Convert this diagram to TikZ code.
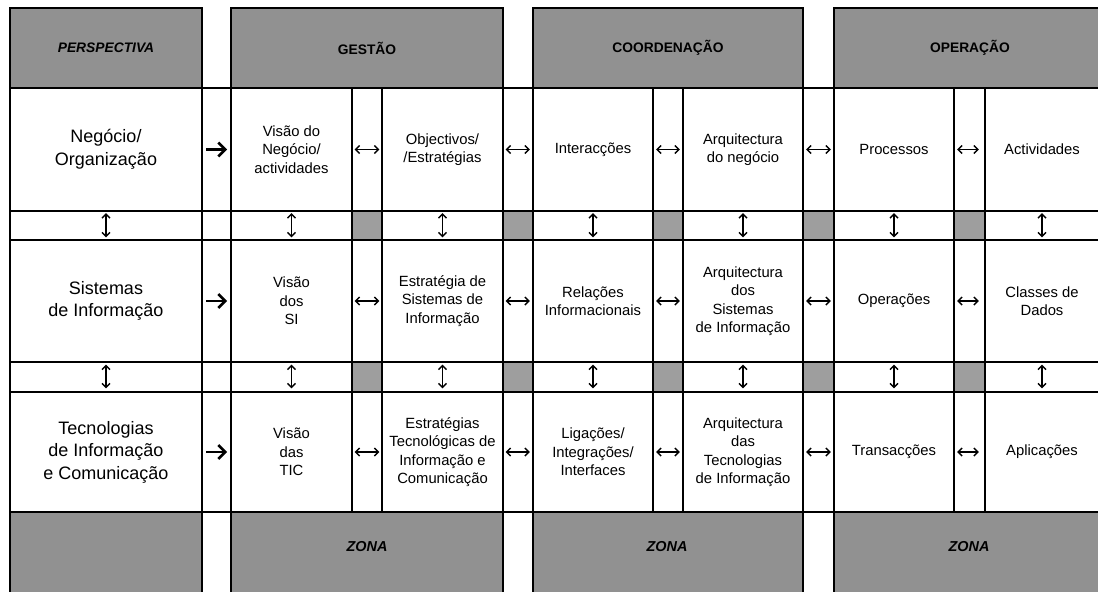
\documentclass[tikz,border=0pt]{standalone}
\usepackage{fontspec}
\setmainfont{Liberation Sans}
\usetikzlibrary{arrows.meta}

\definecolor{bandgray}{gray}{0.57}
\definecolor{patchgray}{gray}{0.62}

\begin{document}
\begin{tikzpicture}[x=0.5pt, y=-0.5pt,
  rule/.style={line width=0.9pt},
  band/.style={draw, rule, fill=bandgray, inner sep=0pt, outer sep=0pt,
    minimum height=40pt, font=\fontsize{6.9}{8}\selectfont\bfseries},
  zone/.style={draw, rule, fill=bandgray, inner sep=0pt, outer sep=0pt, minimum height=44pt},
  area/.style={inner sep=0pt, outer sep=0pt, minimum width=96pt, minimum height=60.5pt,
    align=center, font=\fontsize{9}{11.3}\selectfont},
  item/.style={inner sep=0pt, outer sep=0pt, minimum width=60pt, minimum height=60.5pt,
    align=center, font=\fontsize{7.4}{9.2}\selectfont},
  link/.style={line width=0.7pt, {Straight Barb[length=2pt,width=4pt]}-{Straight Barb[length=2pt,width=4pt]},
    shorten <=1.6pt, shorten >=1.6pt},
  lead/.style={line width=1.3pt, -{Straight Barb[length=3.5pt,width=7pt]},
    shorten <=2.2pt, shorten >=2.2pt}]
  \useasboundingbox (0,0) rectangle (1098,591);
  \clip (0,0) rectangle (1098,591);

  % Header and zone bands
  \node[band, minimum width=96pt] (HP) at (106,48) {\itshape PERSPECTIVA};
  \node[band, minimum width=136pt] (HG) at (367,48) {GESTÃO};
  \node[band, minimum width=135pt] (HC) at (668,48) {COORDENAÇÃO};
  \node[band, minimum width=136pt] (HO) at (970,48) {OPERAÇÃO};
  \node[zone, minimum width=96pt] (ZP) at (106,556) {};
  \node[zone, minimum width=136pt] (ZG) at (367,556) {};
  \node[zone, minimum width=135pt] (ZC) at (668,556) {};
  \node[zone, minimum width=136pt] (ZO) at (970,556) {};
  \node[font=\fontsize{7.2}{8}\selectfont\bfseries\itshape] (zG) at (367,547) {ZONA};
  \node[font=\fontsize{7.2}{8}\selectfont\bfseries\itshape] (zC) at (667,547) {ZONA};
  \node[font=\fontsize{7.2}{8}\selectfont\bfseries\itshape] (zO) at (969,547) {ZONA};

  % Shaded crossings between the cells
  \foreach \x in {352,503,653,803,954}
    \foreach \y in {211,362}
      \fill[patchgray] (\x,\y) rectangle ++(31,30);

  % Cell grid
  \foreach \y in {88,211,240,362,392,512}
    \draw[rule] (10,\y) -- (1106,\y);
  \foreach \x in {10,202,231,352,382,503,533,653,683,803,834,954,985}
    \draw[rule] (\x,88) -- (\x,512);

  % Perspective column
  \node[area] (P1) at (106,149.5) {Negócio/\\Organização};
  \node[area] (P2) at (106,301) {Sistemas\\de Informação};
  \node[area] (P3) at (106,452) {Tecnologias\\de Informação\\e Comunicação};

  % Row 1
  \node[item] (Ga1) at (291.5,149.5) {Visão do\\Negócio/\\actividades};
  \node[item] (Gb1) at (442.5,149.5) {Objectivos/\\/Estratégias};
  \node[item] (Ca1) at (593,149.5) {Interacções};
  \node[item] (Cb1) at (743,149.5) {Arquitectura\\do negócio};
  \node[item] (Oa1) at (894,149.5) {Processos};
  \node[item] (Ob1) at (1042,149.5) {Actividades};

  % Row 2
  \node[item] (Ga2) at (291.5,301) {Visão\\dos\\SI};
  \node[item] (Gb2) at (442.5,301) {Estratégia de\\Sistemas de\\Informação};
  \node[item] (Ca2) at (593,301) {Relações\\Informacionais};
  \node[item] (Cb2) at (743,301) {Arquitectura\\dos\\Sistemas\\de Informação};
  \node[item] (Oa2) at (894,301) {Operações};
  \node[item] (Ob2) at (1042,301) {Classes de\\Dados};

  % Row 3
  \node[item] (Ga3) at (291.5,452) {Visão\\das\\TIC};
  \node[item] (Gb3) at (442.5,452) {Estratégias\\Tecnológicas de\\Informação e\\Comunicação};
  \node[item] (Ca3) at (593,452) {Ligações/\\Integrações/\\Interfaces};
  \node[item] (Cb3) at (743,452) {Arquitectura\\das\\Tecnologias\\de Informação};
  \node[item] (Oa3) at (894,452) {Transacções};
  \node[item] (Ob3) at (1042,452) {Aplicações};

  % Links along each row
  \foreach \r in {1,2,3} {
    \draw[lead] (P\r) -- (Ga\r);
    \draw[link] (Ga\r) -- (Gb\r);
    \draw[link] (Gb\r) -- (Ca\r);
    \draw[link] (Ca\r) -- (Cb\r);
    \draw[link] (Cb\r) -- (Oa\r);
    \draw[link] (Oa\r) -- (Ob\r);
  }

  % Links between the rows
  \foreach \c in {P,Ga,Gb,Ca,Cb,Oa,Ob} {
    \draw[link] (\c1) -- (\c2);
    \draw[link] (\c2) -- (\c3);
  }
\end{tikzpicture}
\end{document}
